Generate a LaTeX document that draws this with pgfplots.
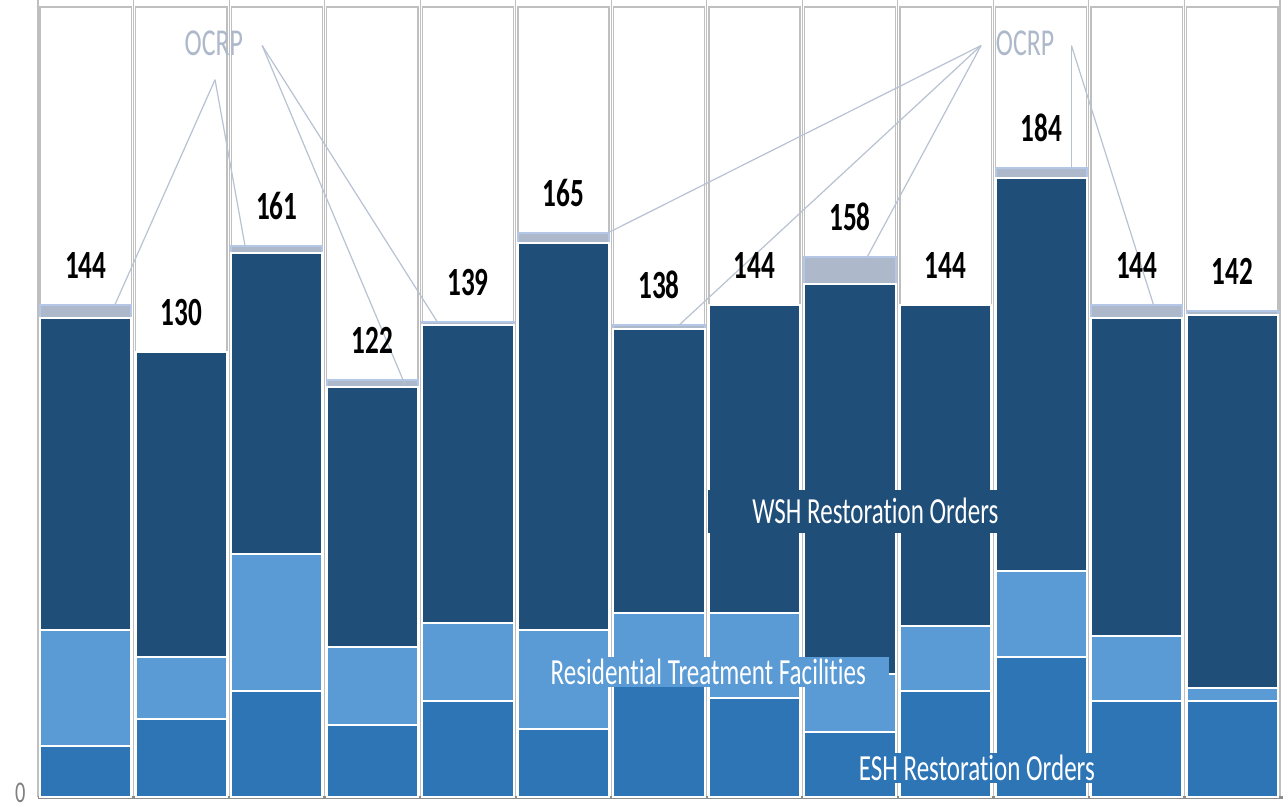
\documentclass[border=0pt]{standalone}
\usepackage{fontspec}
\setmainfont{Carlito}[Ligatures=NoCommon]
\usepackage{pgfplots}
\pgfplotsset{compat=1.18}
\usepackage{pgfplotstable}
\definecolor{esh}{HTML}{2E75B6}
\definecolor{rtf}{HTML}{5B9BD5}
\definecolor{wsh}{HTML}{1F4E79}
\definecolor{ocrp}{HTML}{ADB9CA}
\definecolor{ocrpedge}{HTML}{B4C7E7}
\definecolor{gridgray}{HTML}{BFBFBF}
\definecolor{axisgray}{HTML}{8C8C8C}
\definecolor{labgray}{HTML}{7F7F7F}
\definecolor{leader}{HTML}{B8C2D2}

\tikzset{
  numlab/.style={font=\fontsize{20}{20}\selectfont\bfseries, xscale=0.68, anchor=base, inner sep=0pt, yshift=13.25pt, text=black},
  ocrplab/.style={font=\fontsize{19}{20}\selectfont, xscale=0.68, inner sep=0pt, text=ocrp},
  catlab/.style={font=\fontsize{18.4}{19}\selectfont, xscale=0.68, inner sep=0pt, text=white},
  leaderline/.style={draw=leader, line width=0.6pt},
}

\pgfplotstableread{
x esh rtf wsh ocrp rest
0  15 34 91  4 87
1  23 18 89  0 101
2  31 40 88  2 70
3  21 23 76  2 109
4  28 23 87  1 92
5  20 29 113 3 66
6  33 21 83  1 93
7  29 25 90  0 87
8  19 17 114 8 73
9  31 19 94  0 87
10 41 25 115 3 47
11 28 19 93  4 87
12 28 4  109 1 89
}\data

\begin{document}
\begin{tikzpicture}
\begin{axis}[
  scale only axis, width=621pt, height=398.65pt,
  xmin=-0.5, xmax=12.5, ymin=0, ymax=233,
  ybar stacked, bar width=0.955,
  axis x line*=bottom, axis y line*=left,
  x axis line style={draw=axisgray, line width=1.3pt, shorten >=-3pt},
  y axis line style={draw=none},
  xtick={-0.5,0.5,...,12.5}, xticklabels={},
  xmajorgrids=true,
  major grid style={draw=gridgray, line width=0.55pt},
  ytick={0}, yticklabels={0},
  major tick length=0pt,
  yticklabel style={font=\fontsize{15}{15}\selectfont, text=labgray, xscale=0.68, inner sep=0pt, anchor=east, xshift=-9pt, yshift=2.2pt},
  clip=false,
]
\addplot+[fill=esh, draw=white, line width=1pt] table[x=x, y=esh] {\data};
\addplot+[fill=rtf, draw=white, line width=1pt] table[x=x, y=rtf] {\data};
\addplot+[fill=wsh, draw=white, line width=1pt] table[x=x, y=wsh] {\data};
\addplot+[fill=ocrp, draw=ocrpedge, line width=1pt] table[x=x, y=ocrp] {\data};
\addplot+[fill=white, draw=gridgray, line width=0.7pt] table[x=x, y=rest] {\data};

% anchor coordinates for annotations (drawn after the axis)
\coordinate (A0) at (axis cs:1.353,209.7);
\coordinate (B0) at (axis cs:1.846,219.7);
\coordinate (C0) at (axis cs:9.371,219.7);
\coordinate (D0) at (axis cs:10.317,219.7);
\coordinate (A1) at (axis cs:0.306,144);
\coordinate (A2) at (axis cs:1.668,161);
\coordinate (B1) at (axis cs:3.343,120.5);
\coordinate (B2) at (axis cs:3.678,139);
\coordinate (C1) at (axis cs:5.469,165);
\coordinate (C2) at (axis cs:6.191,137.5);
\coordinate (C3) at (axis cs:8.181,158);
\coordinate (D1) at (axis cs:10.317,184);
\coordinate (D2) at (axis cs:11.175,144);
\coordinate (O1) at (axis cs:1.340,220.3);
\coordinate (O2) at (axis cs:9.832,220.3);
\coordinate (T0) at (axis cs:0,144);
\coordinate (T1) at (axis cs:1,130);
\coordinate (T2) at (axis cs:2,161);
\coordinate (T3) at (axis cs:3,122);
\coordinate (T4) at (axis cs:4,139);
\coordinate (T5) at (axis cs:5,165);
\coordinate (T6) at (axis cs:6,138);
\coordinate (T7) at (axis cs:7,144);
\coordinate (T8) at (axis cs:8,158);
\coordinate (T9) at (axis cs:9,144);
\coordinate (T10) at (axis cs:10,184);
\coordinate (T11) at (axis cs:11,144);
\coordinate (T12) at (axis cs:12,142);
\coordinate (WB) at (axis cs:8.264,83.6);
\coordinate (RB) at (axis cs:6.626,36.6);
\coordinate (RT) at (axis cs:6.516,36.6);
\coordinate (EB) at (axis cs:9.31,8.6);
\coordinate (ET) at (axis cs:9.327,8.6);
\end{axis}

\draw[leaderline] (A0) -- (A1);
\draw[leaderline] (A0) -- (A2);
\draw[leaderline] (B0) -- (B1);
\draw[leaderline] (B0) -- (B2);
\draw[leaderline] (C0) -- (C1);
\draw[leaderline] (C0) -- (C2);
\draw[leaderline] (C0) -- (C3);
\draw[leaderline] (D0) -- (D1);
\draw[leaderline] (D0) -- (D2);
\node[ocrplab] at (O1) {OCRP};
\node[ocrplab] at (O2) {OCRP};

\node[numlab] at (T0) {144};
\node[numlab] at (T1) {130};
\node[numlab] at (T2) {161};
\node[numlab] at (T3) {122};
\node[numlab] at (T4) {139};
\node[numlab] at (T5) {165};
\node[numlab] at (T6) {138};
\node[numlab] at (T7) {144};
\node[numlab] at (T8) {158};
\node[numlab] at (T9) {144};
\node[numlab] at (T10) {184};
\node[numlab] at (T11) {144};
\node[numlab] at (T12) {142};

\node[fill=wsh, minimum width=167pt, minimum height=21.5pt, inner sep=0pt] at (WB) {};
\node[catlab] at (WB) {WSH Restoration Orders};
\node[fill=rtf, minimum width=170.5pt, minimum height=15pt, inner sep=0pt] at (RB) {};
\node[catlab] at (RT) {Residential Treatment Facilities};
\node[fill=esh, minimum width=120pt, minimum height=15pt, inner sep=0pt] at (EB) {};
\node[catlab] at (ET) {ESH Restoration Orders};

\pgfresetboundingbox
\path (current axis.south west) ++(-19pt,-5.85pt) coordinate (bbA);
\path (current axis.north east) ++(1.5pt,0pt) coordinate (bbB);
\path[use as bounding box] (bbA) rectangle (bbB);
\end{tikzpicture}
\end{document}
